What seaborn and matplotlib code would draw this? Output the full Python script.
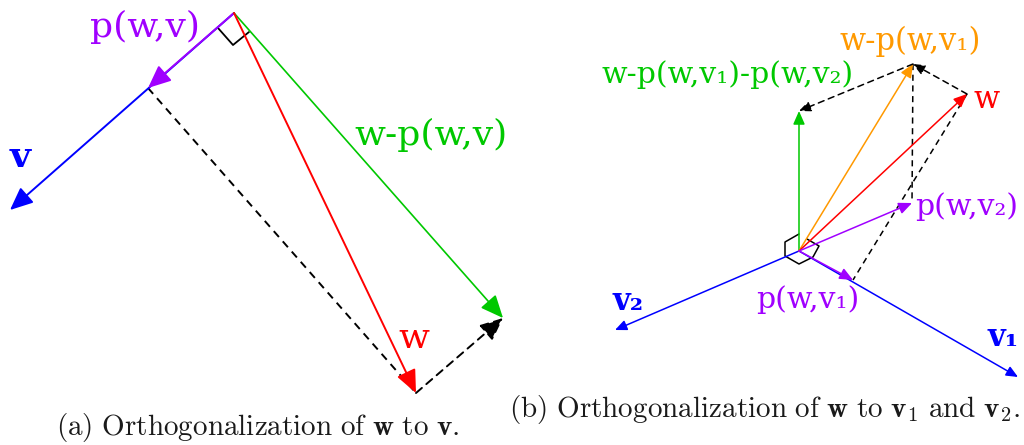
import matplotlib
matplotlib.use("Agg")
import matplotlib.pyplot as plt
import seaborn as sns
import pandas as pd

sns.set_theme(style="white")
plt.rcParams["font.family"] = ["DejaVu Serif", "DejaVu Sans"]
plt.rcParams["mathtext.fontset"] = "cm"

# ---------------- data (image pixel coordinates) ----------------
# panel (a)
a_origin = (234, 13)
a_v_tip = (10, 210)
a_p_tip = (148, 88)
a_w_tip = (416, 393)
a_wp_tip = (503, 318)
a_right_angle = [(218, 28), (233, 45), (249, 32)]

# panel (b)
b_origin = (799, 251)
b_v1_tip = (1018, 377)
b_v2_tip = (615, 330)
b_pv1_tip = (853, 280)
b_pv2_tip = (912, 203)
b_w_tip = (967, 94)
b_wpv1_tip = (913, 64)
b_green_tip = (799, 111)
b_right_angle = [(799, 234), (785, 242), (785, 256), (799, 264),
                 (813, 257), (819, 246), (807, 239)]

BLUE = "#0000ff"
PURPLE = "#a000ff"
RED = "#ff0000"
GREEN = "#00c800"
ORANGE = "#ff9900"
BLACK = "#000000"

labels_a = [
    ("p(w,v)", (145, 27), PURPLE, "normal", 26),
    ("v", (20, 157), BLUE, "bold", 26),
    ("w-p(w,v)", (431, 135), GREEN, "normal", 26),
    ("w", (414, 338), RED, "normal", 26),
]
labels_b = [
    ("w-p(w,v\u2081)", (910, 41), ORANGE, "normal", 22),
    ("w-p(w,v\u2081)-p(w,v\u2082)", (728, 75), GREEN, "normal", 21.5),
    ("w", (987, 99), RED, "normal", 22),
    ("p(w,v\u2082)", (967, 207), PURPLE, "normal", 21.5),
    ("p(w,v\u2081)", (808, 300), PURPLE, "normal", 21.5),
    ("v\u2082", (628, 302), BLUE, "bold", 22),
    ("v\u2081", (1003, 337), BLUE, "bold", 22),
]
captions = [
    (r"$\mathrm{(a)\ Orthogonalization\ of\ }\mathbf{w}\mathrm{\ to\ }\mathbf{v}\mathrm{.}$", (258, 428)),
    (r"$\mathrm{(b)\ Orthogonalization\ of\ }\mathbf{w}\mathrm{\ to\ }\mathbf{v}_1\mathrm{\ and\ }\mathbf{v}_2\mathrm{.}$", (765, 409)),
]

# ---------------- drawing ----------------
fig = plt.figure(figsize=(10.24, 4.45), dpi=100)
ax = fig.add_axes([0, 0, 1, 1])
ax.set_xlim(0, 1024)
ax.set_ylim(445, 0)
ax.axis("off")


def arrow(p0, p1, color, lw, ms, ls="-"):
    ax.annotate("", xy=p1, xytext=p0,
                arrowprops=dict(arrowstyle="-|>,head_length=0.5,head_width=0.22",
                                color=color, lw=lw, linestyle=ls,
                                mutation_scale=ms, shrinkA=0, shrinkB=0))


def dashed(p0, p1, lw):
    df = pd.DataFrame({"x": [p0[0], p1[0]], "y": [p0[1], p1[1]]})
    sns.lineplot(data=df, x="x", y="y", ax=ax, color=BLACK, lw=lw,
                 linestyle=(0, (4, 3)), sort=False, estimator=None)


def poly(points, lw):
    df = pd.DataFrame({"x": [p[0] for p in points], "y": [p[1] for p in points]})
    sns.lineplot(data=df, x="x", y="y", ax=ax, color=BLACK, lw=lw,
                 sort=False, estimator=None)


# panel (a)
dashed(a_p_tip, a_w_tip, 1.4)
poly(a_right_angle, 1.3)
arrow(a_origin, a_v_tip, BLUE, 1.4, 28)
arrow(a_origin, a_p_tip, PURPLE, 1.4, 28)
arrow(a_origin, a_wp_tip, GREEN, 1.2, 28)
arrow(a_origin, a_w_tip, RED, 1.4, 28)
arrow(a_w_tip, a_wp_tip, BLACK, 1.4, 28, ls=(0, (4, 3)))

# panel (b)
dashed(b_wpv1_tip, b_pv2_tip, 1.1)
dashed(b_w_tip, b_pv1_tip, 1.1)
poly(b_right_angle, 1.1)
arrow(b_origin, b_v1_tip, BLUE, 1.1, 14)
arrow(b_origin, b_v2_tip, BLUE, 1.1, 14)
arrow(b_origin, b_green_tip, GREEN, 1.1, 16)
arrow(b_origin, b_wpv1_tip, ORANGE, 1.1, 16)
arrow(b_origin, b_w_tip, RED, 1.1, 16)
arrow(b_origin, b_pv2_tip, PURPLE, 1.1, 16)
arrow(b_origin, b_pv1_tip, PURPLE, 1.1, 16)
arrow(b_w_tip, b_wpv1_tip, BLACK, 1.1, 14, ls=(0, (4, 3)))
arrow(b_wpv1_tip, b_green_tip, BLACK, 1.1, 14, ls=(0, (4, 3)))

for text, pos, color, weight, size in labels_a + labels_b:
    ax.text(pos[0], pos[1], text, color=color, fontweight=weight,
            fontsize=size, ha="center", va="center")

for text, pos in captions:
    ax.text(pos[0], pos[1], text, color="#1a1a1a", fontsize=21,
            ha="center", va="center")

fig.savefig("out.png", dpi=100)
